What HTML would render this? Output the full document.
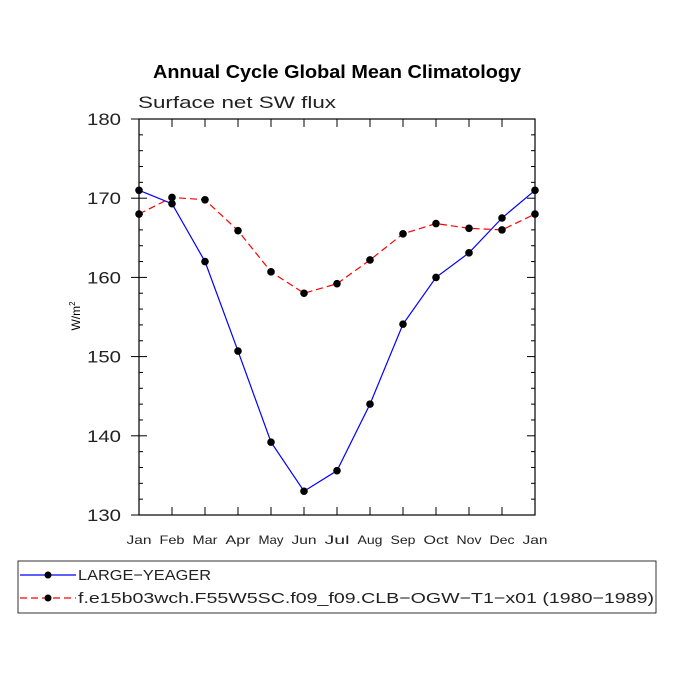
<!DOCTYPE html>
<html><head><meta charset="utf-8"><style>body{margin:0;background:#fff}svg{display:block}</style></head>
<body>
<svg width="675" height="675" xmlns="http://www.w3.org/2000/svg" font-family="Liberation Sans, sans-serif">
<text x="153" y="78" textLength="368" lengthAdjust="spacingAndGlyphs" font-weight="bold" font-size="18">Annual Cycle Global Mean Climatology</text>
<text x="138" y="108" textLength="198" lengthAdjust="spacingAndGlyphs" font-size="17" fill="#222">Surface net SW flux</text>
<text transform="translate(80,316) rotate(-90)" text-anchor="middle" font-size="12">W/m<tspan dy="-5" font-size="8">2</tspan></text>
<g id="axes"></g>
<g id="series"></g>
<g>
<rect x="18" y="561" width="638" height="52" fill="none" stroke="#000" stroke-width="0.8"/>
<line x1="20" y1="575" x2="76" y2="575" stroke="#00f" stroke-width="1.2"/><circle cx="48" cy="575" r="3.5"/>
<text x="78" y="580" textLength="133" lengthAdjust="spacingAndGlyphs" font-size="15" fill="#222">LARGE−YEAGER</text>
<line x1="20" y1="598" x2="76" y2="598" stroke="#f00" stroke-width="1.2" stroke-dasharray="7,4"/><circle cx="48" cy="598" r="3.5"/>
<text x="78" y="603" textLength="576" lengthAdjust="spacingAndGlyphs" font-size="15" fill="#222">f.e15b03wch.F55W5SC.f09_f09.CLB−OGW−T1−x01 (1980−1989)</text>
</g>
</svg>
<script>
const months=["Jan","Feb","Mar","Apr","May","Jun","Jul","Aug","Sep","Oct","Nov","Dec","Jan"];
const largeYeager=[171,169.3,162,150.7,139.2,133,135.6,144,154.1,160,163.1,167.5,171];
const f09=[168,170.1,169.8,165.9,160.7,158,159.2,162.2,165.5,166.8,166.2,166,168];
const yTicks=[130,140,150,160,170,180];
const L=139,R=535,T=119,B=515,ymin=130,ymax=180;
const xs=i=>L+(R-L)*i/(months.length-1);
const ys=v=>B-(B-T)*(v-ymin)/(ymax-ymin);
const NS="http://www.w3.org/2000/svg";
function mk(tag,attrs,parent){const e=document.createElementNS(NS,tag);for(const k in attrs)e.setAttribute(k,attrs[k]);parent.appendChild(e);return e;}
const ax=document.getElementById('axes');
const frame=mk('rect',{x:L,y:T,width:R-L,height:B-T,fill:'none',stroke:'#000','stroke-width':1.2},ax);


months.forEach((m,i)=>{const x=xs(i);
mk('line',{x1:x,y1:B,x2:x,y2:B-8,stroke:'#000'},ax);mk('line',{x1:x,y1:T,x2:x,y2:T+8,stroke:'#000'},ax);
const t=mk('text',{x:x,y:B+29,'text-anchor':'middle','font-size':12,fill:'#222',textLength:25,lengthAdjust:'spacingAndGlyphs'},ax);t.textContent=m;

});
for(let v=ymin;v<=ymax;v+=2){const y=ys(v);const major=(v%10===0);
mk('line',{x1:major?L-8:L,y1:y,x2:L+(major?8:4),y2:y,stroke:'#000'},ax);
mk('line',{x1:R-(major?8:4),y1:y,x2:R,y2:y,stroke:'#000'},ax);}
yTicks.forEach(v=>{const t=mk('text',{x:L-18,y:ys(v)+6,'text-anchor':'end','font-size':17,fill:'#222',textLength:34,lengthAdjust:'spacingAndGlyphs'},ax);t.textContent=v;

});
const sg=document.getElementById('series');
function series(vals,color,dash,name){
const p=mk('polyline',{points:vals.map((v,i)=>xs(i)+','+ys(v)).join(' '),fill:'none',stroke:color,'stroke-width':1.2},sg);
if(dash)p.setAttribute('stroke-dasharray',dash);


vals.forEach((v,i)=>{const c=mk('circle',{cx:xs(i),cy:ys(v),r:3.8,fill:'#000'},sg);

});}
series(largeYeager,'#00f',null,'large-yeager');
series(f09,'#f00','7,4','f09');
</script>
</body></html>
